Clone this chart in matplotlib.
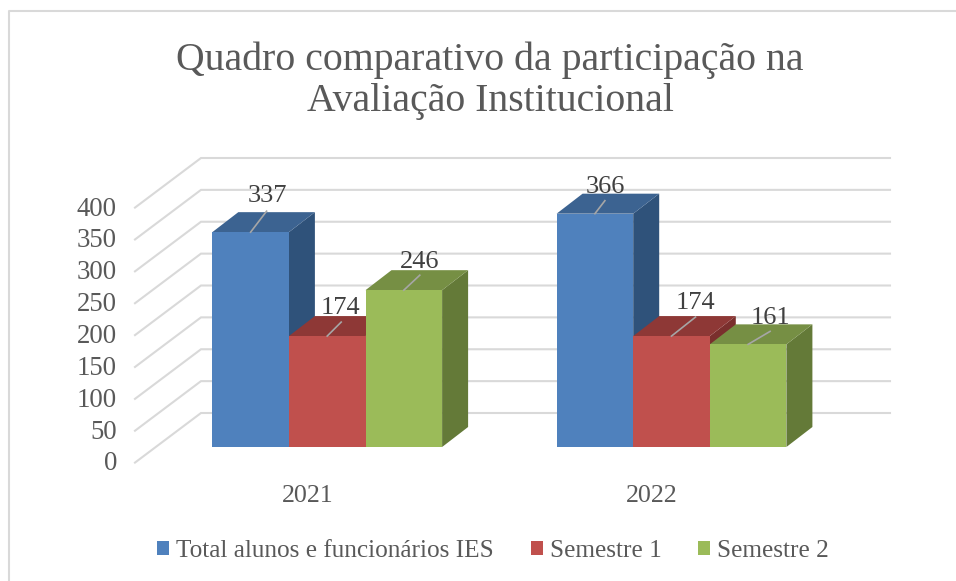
#!/usr/bin/python3

import matplotlib
matplotlib.use('Agg')
import matplotlib.pyplot as plt
from matplotlib.lines import Line2D
import numpy as np

years = ['2021', '2022']
series_names = ['Total alunos e funcionários IES', 'Semestre 1', 'Semestre 2']
total_ies = [337, 366]
semestre_1 = [174, 174]
semestre_2 = [246, 161]
y_ticks = [0, 50, 100, 150, 200, 250, 300, 350, 400]

# label and leader line offsets per series and year, in pixels from bar top centre
leader_ends = [[(16, 21), (10, 13)], [(14, 14), (24, 19)], [(16, 15), (22, 13)]]
label_offsets = [[(17, 36), (10, 27)], [(13, 28), (24, 33)], [(16, 28), (22, 26)]]

colors = ['#4F81BD', '#C0504D', '#9BBB59']
top_colors = ['#3C6391', '#8E3836', '#768F44']
side_colors = ['#2F527A', '#7A2F2D', '#647A38']
grey_text = '#595959'
grid_color = '#D9D9D9'

W, H = 956, 581
AX_LEFT, AX_RIGHT, AX_ZERO, AX_TOP = 135, 890, 461, 206
GROUP_STEP = 344.3
BAR_PX = 76.6


def main():
    plt.rcParams['font.family'] = ['Liberation Serif', 'DejaVu Serif']
    fig = plt.figure(figsize=(W / 100, H / 100), dpi=100)
    ax = fig.add_axes([AX_LEFT / W, (H - AX_ZERO) / H, (AX_RIGHT - AX_LEFT) / W, (AX_ZERO - AX_TOP) / H])
    xmin = (AX_LEFT - 307.5) / GROUP_STEP
    xmax = (AX_RIGHT - 307.5) / GROUP_STEP
    ax.set_xlim(xmin, xmax)
    ax.set_ylim(0, 400)
    px_y = 400 / (AX_ZERO - AX_TOP)

    def dx(p):
        return p / GROUP_STEP

    def dy(p):
        return p * px_y

    # gridlines on the floor side and the back wall
    for v in y_ticks:
        ax.plot([xmin, xmin + dx(66), xmax],
                [v - dy(1.6), v + dy(48), v + dy(48)],
                color=grid_color, lw=1.5, clip_on=False, zorder=1, solid_joinstyle='miter')

    base = dy(14)
    depth_x, depth_y = dx(26), dy(20)
    width = dx(BAR_PX)
    x = np.arange(len(years))
    all_values = [total_ies, semestre_1, semestre_2]

    for i, values in enumerate(all_values):
        z = 3 + i * 3
        centres = x + dx(19.7) + (i - 1) * width
        ax.bar(centres, values, width, bottom=base, color=colors[i], label=series_names[i],
               zorder=z + 2, clip_on=False)
        for j, v in enumerate(values):
            left, right = centres[j] - width / 2, centres[j] + width / 2
            top = base + v
            ax.fill([left, right, right + depth_x, left + depth_x],
                    [top, top, top + depth_y, top + depth_y],
                    color=top_colors[i], lw=0, zorder=z + 1, clip_on=False)
            ax.fill([right, right + depth_x, right + depth_x, right],
                    [base, base + depth_y, top + depth_y, top],
                    color=side_colors[i], lw=0, zorder=z, clip_on=False)
            # leader line and value label
            ex, ey = leader_ends[i][j]
            ax.plot([centres[j], centres[j] + dx(ex)], [top, top + dy(ey)],
                    color='#A6A6A6', lw=1.2, zorder=20, clip_on=False)
            lx, ly = label_offsets[i][j]
            ax.text(centres[j] + dx(lx), top + dy(ly), str(v), ha='center', va='center',
                    fontsize=19, color='#404040', zorder=21)

    ax.set_xticks(x)
    ax.set_xticklabels(years, fontsize=18.7, color=grey_text)
    ax.set_yticks(y_ticks)
    ax.set_yticklabels([str(v) for v in y_ticks], fontsize=19.3, color=grey_text)
    ax.tick_params(axis='x', length=0, pad=17)
    ax.tick_params(axis='y', length=0, pad=13)
    for s in ax.spines.values():
        s.set_visible(False)
    ax.patch.set_visible(False)

    fig.text(490 / W, 1 - 81 / H, 'Quadro comparativo da participação na\nAvaliação Institucional',
             ha='center', va='center', fontsize=28.6, color=grey_text, linespacing=1.15)

    fig.legend(loc='center', bbox_to_anchor=(493 / W, 1 - 551 / H), ncol=3, frameon=False,
               fontsize=18.2, labelcolor=grey_text, handlelength=0.47, handleheight=0.47,
               handletextpad=0.28, columnspacing=1.45)

    # chart frame, only top and left are inside the picture
    frame = Line2D([9 / W, 9 / W, 1], [0, 1 - 11 / H, 1 - 11 / H], transform=fig.transFigure,
                   color=grid_color, lw=1.5)
    fig.add_artist(frame)

    fig.savefig('out.png', dpi=100)


if __name__ == '__main__':
    main()
